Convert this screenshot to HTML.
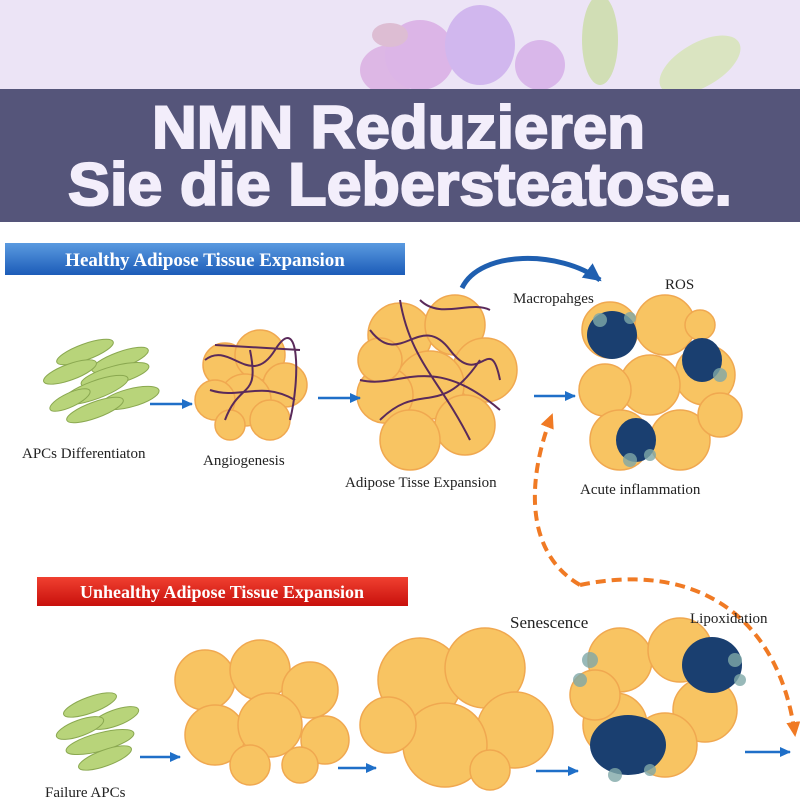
<!DOCTYPE html><html><head><style>body{margin:0}svg{display:block}</style></head><body>
<svg width="800" height="800" viewBox="0 0 800 800" xmlns="http://www.w3.org/2000/svg">
<defs>
<linearGradient id="bl" x1="0" y1="0" x2="0" y2="1"><stop offset="0" stop-color="#5a9ae0"/><stop offset="1" stop-color="#1c5cb8"/></linearGradient>
<linearGradient id="rd" x1="0" y1="0" x2="0" y2="1"><stop offset="0" stop-color="#f04030"/><stop offset="1" stop-color="#c8100c"/></linearGradient>
<marker id="ar" markerUnits="userSpaceOnUse" markerWidth="12" markerHeight="12" refX="10" refY="6" orient="auto"><path d="M0,1L11,6L0,11z" fill="#1f6fc8"/></marker>
<marker id="ab" markerUnits="userSpaceOnUse" markerWidth="20" markerHeight="20" refX="16" refY="10" orient="auto"><path d="M0,1L18,10L0,19z" fill="#1f5fb0"/></marker>
<marker id="ao" markerUnits="userSpaceOnUse" markerWidth="16" markerHeight="16" refX="13" refY="8" orient="auto"><path d="M0,1L15,8L0,15z" fill="#f07a24"/></marker>
</defs>
<rect width="800" height="800" fill="#fff"/>
<rect width="800" height="89" fill="#ece4f6"/>
<g opacity="0.75">
<ellipse cx="390" cy="70" rx="30" ry="25" fill="#d9a8e0"/><ellipse cx="420" cy="55" rx="35" ry="35" fill="#d7a6e2"/>
<ellipse cx="480" cy="45" rx="35" ry="40" fill="#c8a8ec"/><ellipse cx="540" cy="65" rx="25" ry="25" fill="#d3a8e6"/>
<ellipse cx="390" cy="35" rx="18" ry="12" fill="#d8b0c8"/>
<ellipse cx="600" cy="40" rx="18" ry="45" fill="#c8dca0"/><ellipse cx="700" cy="65" rx="45" ry="22" fill="#d4e4b0" transform="rotate(-30 700 65)"/>
</g>
<rect y="89" width="800" height="133" fill="#55557a"/>
<g font-family="Liberation Sans,sans-serif" font-weight="bold" fill="#f3eefb" font-size="60" stroke="#f3eefb" stroke-width="2">
<text x="152" y="148" textLength="493" lengthAdjust="spacingAndGlyphs">NMN Reduzieren</text>
<text x="68" y="205" textLength="664" lengthAdjust="spacingAndGlyphs">Sie die Lebersteatose.</text>
</g>
<rect x="5" y="243" width="400" height="32" fill="url(#bl)"/>
<text x="205" y="266" text-anchor="middle" font-family="Liberation Serif,serif" font-weight="bold" font-size="19" fill="#fff">Healthy Adipose Tissue Expansion</text>
<rect x="37" y="577" width="371" height="29" fill="url(#rd)"/>
<text x="222" y="598" text-anchor="middle" font-family="Liberation Serif,serif" font-weight="bold" font-size="18" fill="#fff">Unhealthy Adipose Tissue Expansion</text>
<g fill="#b8d47a" stroke="#8aa850">
<ellipse cx="85" cy="352" rx="30" ry="8" transform="rotate(-20 85 352)"/><ellipse cx="120" cy="360" rx="30" ry="8" transform="rotate(-20 120 360)"/>
<ellipse cx="70" cy="372" rx="28" ry="8" transform="rotate(-20 70 372)"/><ellipse cx="115" cy="375" rx="35" ry="9" transform="rotate(-15 115 375)"/><ellipse cx="95" cy="390" rx="35" ry="9" transform="rotate(-20 95 390)"/><ellipse cx="130" cy="398" rx="30" ry="9" transform="rotate(-15 130 398)"/><ellipse cx="95" cy="410" rx="30" ry="8" transform="rotate(-20 95 410)"/><ellipse cx="70" cy="400" rx="22" ry="7" transform="rotate(-25 70 400)"/>
<ellipse cx="90" cy="705" rx="28" ry="8" transform="rotate(-20 90 705)"/><ellipse cx="115" cy="718" rx="25" ry="8" transform="rotate(-20 115 718)"/><ellipse cx="80" cy="728" rx="25" ry="8" transform="rotate(-20 80 728)"/><ellipse cx="100" cy="742" rx="35" ry="9" transform="rotate(-15 100 742)"/><ellipse cx="105" cy="758" rx="28" ry="8" transform="rotate(-20 105 758)"/>
</g>
<g fill="#f8c462" stroke="#f0a850" stroke-width="1.5">
<circle cx="225" cy="365" r="22"/><circle cx="260" cy="355" r="25"/><circle cx="285" cy="385" r="22"/><circle cx="245" cy="400" r="26"/><circle cx="215" cy="400" r="20"/><circle cx="270" cy="420" r="20"/><circle cx="230" cy="425" r="15"/>
<circle cx="400" cy="335" r="32"/><circle cx="455" cy="325" r="30"/><circle cx="485" cy="370" r="32"/><circle cx="430" cy="385" r="34"/><circle cx="385" cy="395" r="28"/><circle cx="465" cy="425" r="30"/><circle cx="410" cy="440" r="30"/><circle cx="380" cy="360" r="22"/>
<circle cx="610" cy="330" r="28"/><circle cx="665" cy="325" r="30"/><circle cx="705" cy="375" r="30"/><circle cx="650" cy="385" r="30"/><circle cx="605" cy="390" r="26"/><circle cx="620" cy="440" r="30"/><circle cx="680" cy="440" r="30"/><circle cx="720" cy="415" r="22"/><circle cx="700" cy="325" r="15"/>
<circle cx="205" cy="680" r="30"/><circle cx="260" cy="670" r="30"/><circle cx="310" cy="690" r="28"/><circle cx="215" cy="735" r="30"/><circle cx="270" cy="725" r="32"/><circle cx="325" cy="740" r="24"/><circle cx="250" cy="765" r="20"/><circle cx="300" cy="765" r="18"/>
<circle cx="420" cy="680" r="42"/><circle cx="485" cy="668" r="40"/><circle cx="515" cy="730" r="38"/><circle cx="445" cy="745" r="42"/><circle cx="388" cy="725" r="28"/><circle cx="490" cy="770" r="20"/>
<circle cx="620" cy="660" r="32"/><circle cx="680" cy="650" r="32"/><circle cx="705" cy="710" r="32"/><circle cx="615" cy="725" r="32"/><circle cx="665" cy="745" r="32"/><circle cx="595" cy="695" r="25"/>
</g>
<g fill="#1a3f70">
<ellipse cx="612" cy="335" rx="25" ry="24"/><ellipse cx="702" cy="360" rx="20" ry="22"/><ellipse cx="636" cy="440" rx="20" ry="22"/>
<ellipse cx="712" cy="665" rx="30" ry="28"/><ellipse cx="628" cy="745" rx="38" ry="30"/>
</g>
<g fill="#7fa8a8" opacity="0.8">
<circle cx="600" cy="320" r="7"/><circle cx="630" cy="318" r="6"/><circle cx="720" cy="375" r="7"/><circle cx="630" cy="460" r="7"/><circle cx="650" cy="455" r="6"/>
<circle cx="590" cy="660" r="8"/><circle cx="580" cy="680" r="7"/><circle cx="735" cy="660" r="7"/><circle cx="740" cy="680" r="6"/><circle cx="615" cy="775" r="7"/><circle cx="650" cy="770" r="6"/>
</g>
<g fill="none" stroke="#5a2a5a" stroke-width="2">
<path d="M205 360 C230 340 250 390 275 350 S300 380 290 420 M225 420 C240 380 260 400 250 350 M210 390 C240 400 260 380 295 400 M215 345 L300 350"/>
<path d="M370 330 C400 370 420 310 450 350 S490 330 500 380 M380 420 C420 380 440 420 480 360 M400 300 C410 360 440 380 470 440 M360 380 C400 390 430 350 500 410 M420 300 C440 320 470 300 490 310"/>
</g>
<g stroke="#1f6fc8" stroke-width="2.5" marker-end="url(#ar)">
<line x1="150" y1="404" x2="192" y2="404"/><line x1="318" y1="398" x2="360" y2="398"/><line x1="534" y1="396" x2="575" y2="396"/>
<line x1="140" y1="757" x2="180" y2="757"/><line x1="338" y1="768" x2="376" y2="768"/><line x1="536" y1="771" x2="578" y2="771"/><line x1="745" y1="752" x2="790" y2="752"/>
</g>
<path d="M462 288 C480 250 560 250 600 280" fill="none" stroke="#1f5fb0" stroke-width="5" marker-end="url(#ab)"/>
<path d="M580 585 C520 550 530 470 552 415" fill="none" stroke="#f07a24" stroke-width="4" stroke-dasharray="10 6" marker-end="url(#ao)"/>
<path d="M580 585 C700 560 780 620 795 735" fill="none" stroke="#f07a24" stroke-width="4" stroke-dasharray="10 6" marker-end="url(#ao)"/>
<g font-family="Liberation Serif,serif" fill="#222" font-size="15">
<text x="22" y="458">APCs Differentiaton</text>
<text x="203" y="465">Angiogenesis</text>
<text x="345" y="487">Adipose Tisse Expansion</text>
<text x="580" y="494">Acute inflammation</text>
<text x="513" y="303">Macropahges</text>
<text x="665" y="289">ROS</text>
<text x="45" y="797">Failure APCs</text>
<text x="510" y="628" font-size="17">Senescence</text>
<text x="690" y="623">Lipoxidation</text>
</g>
</svg>
</body></html>
